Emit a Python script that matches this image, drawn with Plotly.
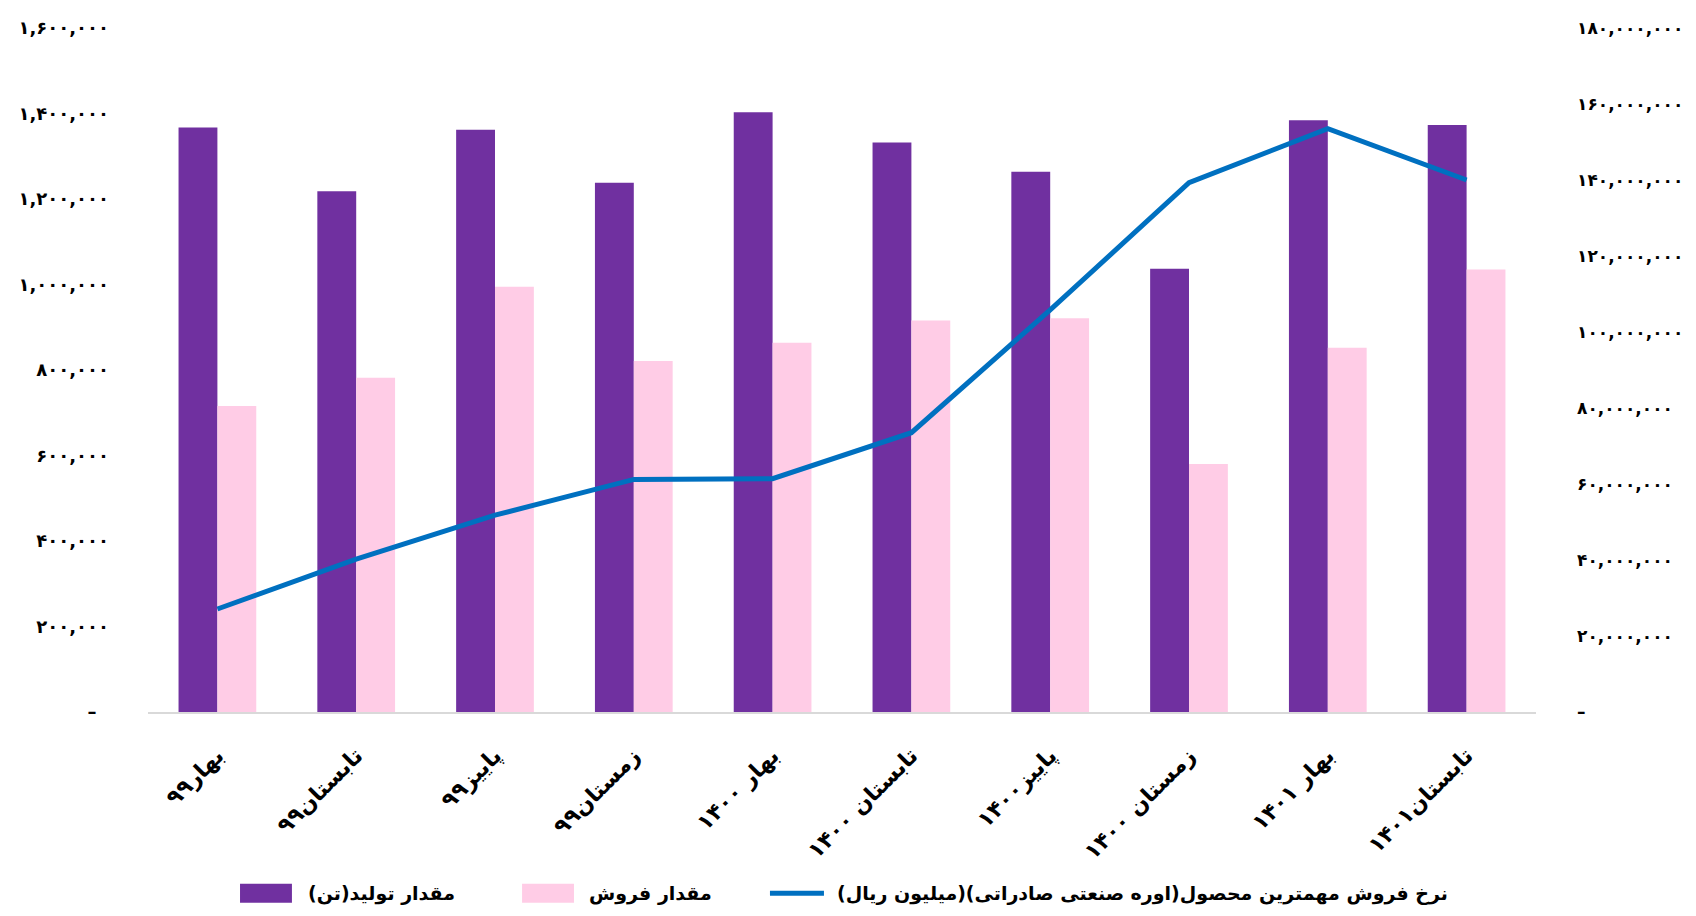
import plotly.graph_objects as go

categories = ["بهار۹۹", "تابستان۹۹", "پاییز۹۹", "زمستان۹۹", "بهار ۱۴۰۰",
              "تابستان ۱۴۰۰", "پاییز۱۴۰۰", "زمستان ۱۴۰۰", "بهار ۱۴۰۱", "تابستان۱۴۰۱"]
production = [1367000, 1218000, 1362000, 1238000, 1403000,
              1332000, 1264000, 1037000, 1384000, 1373000]
sales = [716000, 782000, 995000, 821000, 864000,
         916000, 921000, 580000, 852000, 1035000]
price = [27100000, 40200000, 51800000, 61200000, 61400000,
         73500000, 105800000, 139300000, 153500000, 140000000]
left_ticks = [0, 200000, 400000, 600000, 800000, 1000000, 1200000, 1400000, 1600000]
right_ticks = [0, 20000000, 40000000, 60000000, 80000000, 100000000,
               120000000, 140000000, 160000000, 180000000]
legend_names = ["مقدار تولید(تن)", "مقدار فروش",
                "نرخ فروش مهمترین محصول(اوره صنعتی صادراتی)(میلیون ریال)"]

PURPLE = "#7030A0"
PINK = "#FFCCE6"
BLUE = "#0070C0"
FONT = "DejaVu Sans"

FA = str.maketrans("0123456789", "۰۱۲۳۴۵۶۷۸۹")


def fa_num(v, zero_pad):
    if v == 0:
        return "–" + "\u00a0" * zero_pad
    return f"{v:,}".translate(FA)


fig = go.Figure()
fig.add_trace(go.Bar(x=categories, y=production, name=legend_names[0],
                     marker=dict(color=PURPLE, line=dict(width=0))))
fig.add_trace(go.Bar(x=categories, y=sales, name=legend_names[1],
                     marker=dict(color=PINK, line=dict(width=0))))
fig.add_trace(go.Scatter(x=categories, y=price, name=legend_names[2], yaxis="y2",
                         mode="lines", line=dict(color=BLUE, width=5)))

# custom legend (wide swatches as in the reference)
leg_y = -0.265
swatches = [(0.0663, 0.1037, 0.1138, PURPLE, "rect"),
            (0.2695, 0.3069, 0.3163, PINK, "rect"),
            (0.4481, 0.4870, 0.4950, BLUE, "line")]
for (x0, x1, xt, col, kind), name in zip(swatches, legend_names):
    if kind == "rect":
        fig.add_shape(type="rect", xref="paper", yref="paper", x0=x0, x1=x1,
                      y0=leg_y - 0.014, y1=leg_y + 0.014, fillcolor=col, line=dict(width=0))
    else:
        fig.add_shape(type="line", xref="paper", yref="paper", x0=x0, x1=x1,
                      y0=leg_y, y1=leg_y, line=dict(color=col, width=5))
    fig.add_annotation(xref="paper", yref="paper", x=xt, y=leg_y, xanchor="left",
                       yanchor="middle", showarrow=False, text=name + "\u200f",
                       font=dict(family=FONT, size=19, color="#000", weight="bold"))

fig.update_layout(
    width=1680, height=900,
    margin=dict(l=140, r=152, t=20, b=196),
    paper_bgcolor="white", plot_bgcolor="white",
    barmode="group", bargap=0.44, bargroupgap=0,
    showlegend=False,
    xaxis=dict(tickangle=-45, showgrid=False, showline=True, linecolor="#d9d9d9",
               linewidth=2, ticks="", ticklabelstandoff=20, automargin=False,
               tickfont=dict(family=FONT, size=22, color="#000", weight="bold")),
    yaxis=dict(range=[0, 1600000], tickvals=left_ticks,
               ticktext=[fa_num(v, 2) for v in left_ticks], automargin=False,
               showgrid=False, zeroline=False, ticks="", ticklabelstandoff=38,
               tickfont=dict(family=FONT, size=18, color="#000", weight="bold")),
    yaxis2=dict(range=[0, 180000000], tickvals=right_ticks,
                ticktext=[fa_num(v, 0) for v in right_ticks], automargin=False,
                overlaying="y", side="right", showgrid=False, zeroline=False,
                ticks="", ticklabelstandoff=40,
                tickfont=dict(family=FONT, size=17, color="#000", weight="bold")),
)

fig.write_html("out.html")
